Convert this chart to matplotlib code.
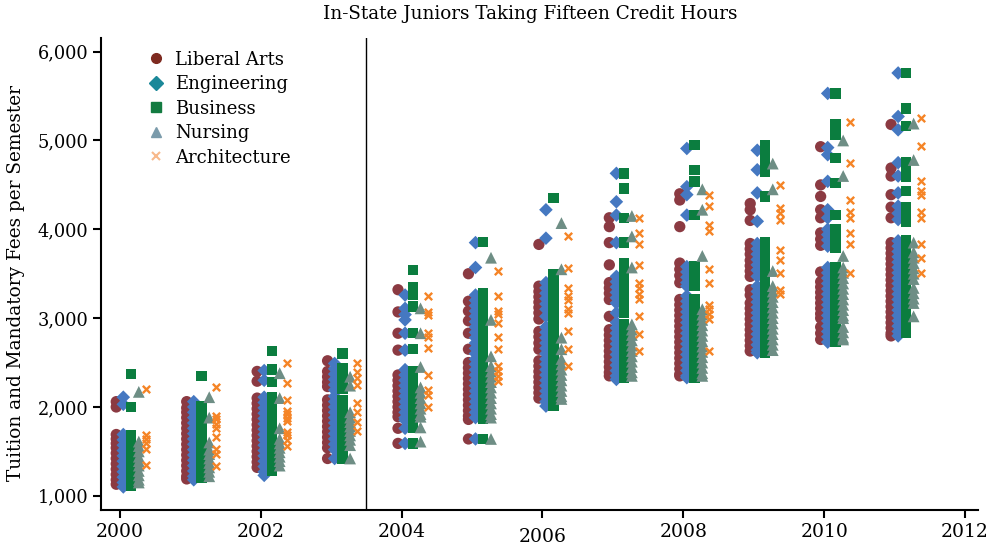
import matplotlib.pyplot as plt
from matplotlib.lines import Line2D
from matplotlib.transforms import ScaledTranslation

plt.rcParams['font.family'] = ['DejaVu Serif']

years = [2000, 2001, 2002, 2003, 2004, 2005, 2006, 2007, 2008, 2009, 2010, 2011]

# fees per semester for each school, one inner list per year
liberal_arts = [
    [2060, 2000, 1690, 1640, 1590, 1540, 1480, 1420, 1360, 1300, 1240, 1180, 1130],
    [2060, 1990, 1940, 1880, 1820, 1760, 1700, 1640, 1580, 1520, 1460, 1400, 1340, 1280, 1220, 1190],
    [2400, 2290, 2100, 2040, 1980, 1920, 1860, 1800, 1740, 1680, 1620, 1560, 1500, 1440, 1380, 1320],
    [2520, 2400, 2340, 2280, 2230, 2080, 2020, 1960, 1900, 1840, 1780, 1720, 1660, 1600, 1540, 1420],
    [3320, 3070, 2830, 2640, 2360, 2300, 2240, 2180, 2120, 2060, 2000, 1940, 1890, 1760, 1590],
    [3500, 3190, 3080, 2970, 2830, 2650, 2500, 2440, 2380, 2320, 2260, 2200, 2140, 2080, 2020, 1960,
     1900, 1860, 1640],
    [3830, 3360, 3300, 3240, 3180, 3120, 3060, 2990, 2850, 2790, 2720, 2650, 2520, 2460, 2400, 2340,
     2280, 2220, 2160, 2100],
    [4130, 4030, 3850, 3600, 3400, 3340, 3280, 3210, 3020, 2870, 2810, 2750, 2690, 2630, 2570, 2510,
     2450, 2390, 2350],
    [4400, 4330, 4030, 3620, 3550, 3480, 3400, 3210, 3150, 3090, 3030, 2970, 2910, 2850, 2790, 2730,
     2670, 2610, 2550, 2490, 2430, 2370, 2350],
    [4290, 4220, 4100, 3840, 3780, 3720, 3650, 3590, 3530, 3470, 3320, 3260, 3170, 3110, 3050, 2990,
     2930, 2870, 2810, 2750, 2690, 2630],
    [4930, 4500, 4370, 4220, 4130, 3960, 3890, 3820, 3520, 3410, 3350, 3290, 3230, 3170, 3110, 3050,
     3000, 2900, 2830, 2760],
    [5180, 4690, 4600, 4390, 4250, 4130, 3850, 3790, 3730, 3670, 3610, 3550, 3490, 3430, 3370, 3310,
     3250, 3190, 3130, 3070, 3010, 2950, 2890, 2830, 2800],
]
engineering = [
    [2110, 2030, 1690, 1630, 1570, 1510, 1450, 1390, 1330, 1270, 1210, 1150, 1100],
    [2060, 2000, 1940, 1880, 1820, 1760, 1700, 1640, 1580, 1520, 1460, 1400, 1340, 1280, 1220, 1180],
    [2410, 2300, 2110, 2050, 1990, 1930, 1870, 1810, 1750, 1690, 1630, 1570, 1510, 1450, 1390, 1330,
     1270, 1230],
    [2490, 2430, 2370, 2310, 2250, 2190, 2120, 2060, 2000, 1940, 1880, 1820, 1760, 1700, 1640, 1580,
     1520, 1420],
    [3260, 3110, 3040, 2980, 2830, 2640, 2420, 2360, 2300, 2240, 2180, 2120, 2060, 2000, 1940, 1880,
     1850, 1760, 1590],
    [3850, 3570, 3260, 3200, 3140, 3080, 3020, 2960, 2900, 2840, 2780, 2720, 2660, 2600, 2540, 2480,
     2420, 2360, 2300, 2240, 2180, 2120, 2060, 2000, 1940, 1880, 1640],
    [4220, 3900, 3400, 3340, 3280, 3220, 3160, 3100, 3020, 2900, 2840, 2780, 2720, 2660, 2600, 2540,
     2480, 2420, 2360, 2300, 2240, 2180, 2120, 2060, 2010],
    [4630, 4310, 4160, 3850, 3470, 3410, 3350, 3290, 3230, 3170, 3060, 2950, 2890, 2830, 2770, 2710,
     2650, 2590, 2530, 2470, 2410, 2350, 2310],
    [4910, 4480, 4390, 4160, 3580, 3520, 3460, 3400, 3360, 3250, 3190, 3130, 3070, 3010, 2950, 2890,
     2830, 2770, 2710, 2650, 2590, 2530, 2470, 2410, 2350, 2330],
    [4890, 4670, 4410, 4090, 3840, 3780, 3720, 3660, 3600, 3540, 3470, 3360, 3300, 3240, 3180, 3120,
     3060, 3000, 2940, 2880, 2820, 2760, 2700, 2640, 2610],
    [5530, 4920, 4840, 4540, 4220, 4130, 4000, 3940, 3880, 3810, 3570, 3510, 3450, 3390, 3330, 3270,
     3210, 3150, 3090, 3030, 2970, 2910, 2850, 2790, 2730],
    [5760, 5270, 5120, 4750, 4600, 4410, 4260, 4180, 4110, 3870, 3810, 3750, 3690, 3630, 3570, 3510,
     3450, 3390, 3330, 3270, 3210, 3150, 3090, 3030, 2970, 2910, 2850, 2800],
]
business = [
    [2370, 2000, 1680, 1620, 1560, 1500, 1440, 1380, 1320, 1260, 1200, 1140, 1110],
    [2350, 2010, 1950, 1890, 1830, 1770, 1710, 1650, 1590, 1530, 1470, 1410, 1350, 1290, 1230, 1200],
    [2630, 2420, 2280, 2110, 2040, 1980, 1920, 1860, 1800, 1740, 1680, 1620, 1560, 1500, 1440, 1380,
     1320, 1280],
    [2600, 2440, 2380, 2320, 2260, 2200, 2080, 2020, 1960, 1900, 1840, 1780, 1720, 1660, 1600, 1540,
     1420],
    [3540, 3350, 3260, 3130, 2830, 2650, 2400, 2340, 2280, 2220, 2160, 2100, 2040, 1980, 1920, 1860,
     1760, 1590],
    [3860, 3280, 3220, 3160, 3100, 3040, 2980, 2900, 2840, 2780, 2700, 2640, 2580, 2520, 2460, 2400,
     2340, 2280, 2220, 2160, 2100, 2040, 1980, 1920, 1870, 1640],
    [4350, 3490, 3430, 3370, 3310, 3250, 3210, 3110, 3050, 3020, 2900, 2840, 2780, 2720, 2660, 2600,
     2540, 2480, 2420, 2360, 2300, 2240, 2180, 2120, 2060, 2010],
    [4630, 4460, 4130, 3850, 3620, 3560, 3500, 3440, 3400, 3340, 3280, 3220, 3170, 3060, 2930, 2870,
     2810, 2750, 2690, 2630, 2570, 2510, 2450, 2390, 2330],
    [4950, 4670, 4540, 4160, 3580, 3520, 3460, 3400, 3360, 3210, 3100, 3040, 2980, 2920, 2860, 2800,
     2740, 2680, 2620, 2560, 2500, 2440, 2380, 2330],
    [4950, 4890, 4830, 4770, 4710, 4650, 4370, 3850, 3790, 3730, 3670, 3610, 3550, 3480, 3360, 3300,
     3240, 3180, 3120, 3060, 3000, 2940, 2880, 2820, 2760, 2700, 2640, 2610],
    [5530, 5180, 5120, 5060, 4800, 4520, 4160, 4000, 3940, 3880, 3820, 3790, 3570, 3510, 3450, 3390,
     3330, 3270, 3210, 3150, 3090, 3030, 3000, 2900, 2840, 2780, 2730],
    [5760, 5360, 5160, 4750, 4670, 4590, 4430, 4250, 4170, 4090, 3880, 3820, 3760, 3700, 3640, 3580,
     3520, 3460, 3420, 3380, 3320, 3260, 3200, 3140, 3100, 3060, 3000, 2940, 2880, 2840],
]
nursing = [
    [2170, 1610, 1560, 1500, 1440, 1390, 1340, 1280, 1230, 1180, 1150],
    [2110, 1880, 1600, 1520, 1470, 1420, 1370, 1320, 1270, 1220],
    [2380, 2100, 1760, 1640, 1590, 1540, 1490, 1440, 1390, 1340],
    [2340, 2240, 1940, 1880, 1830, 1780, 1730, 1680, 1630, 1570, 1420],
    [3110, 2830, 2450, 2220, 2160, 2100, 2040, 1980, 1920, 1890, 1770, 1610],
    [3680, 2980, 2570, 2460, 2400, 2340, 2280, 2220, 2160, 2100, 2040, 1980, 1920, 1880, 1640],
    [4070, 3550, 2780, 2650, 2540, 2480, 2420, 2360, 2300, 2240, 2180, 2120, 2090],
    [4150, 3920, 3570, 2930, 2870, 2810, 2750, 2690, 2630, 2570, 2510, 2450, 2390, 2350],
    [4450, 4220, 3700, 3100, 3040, 2980, 2920, 2860, 2800, 2740, 2680, 2620, 2560, 2500, 2440, 2380,
     2350],
    [4740, 4450, 3530, 3360, 3300, 3240, 3180, 3120, 3060, 3000, 2940, 2880, 2820, 2760, 2700, 2640],
    [5000, 4600, 3700, 3570, 3510, 3450, 3390, 3330, 3270, 3210, 3150, 3090, 3030, 3000, 2900, 2840,
     2780, 2760],
    [5190, 4780, 3850, 3740, 3680, 3620, 3560, 3500, 3440, 3340, 3280, 3220, 3170, 3020],
]
architecture = [
    [2200, 1680, 1640, 1590, 1530, 1350],
    [2230, 1900, 1860, 1810, 1760, 1660, 1530, 1470, 1340],
    [2490, 2270, 2080, 1960, 1920, 1880, 1840, 1720, 1680, 1630, 1560],
    [2490, 2390, 2330, 2250, 2040, 1940, 1830, 1730],
    [3250, 3070, 3030, 2830, 2790, 2660, 2360, 2190, 2140, 2000],
    [3530, 3250, 3080, 3050, 2950, 2790, 2650, 2460, 2400, 2350, 2290],
    [3920, 3570, 3340, 3250, 3200, 3100, 3060, 2850, 2650, 2460],
    [4130, 3960, 3830, 3600, 3400, 3340, 3270, 3210, 3020, 2820, 2630],
    [4390, 4260, 4050, 3980, 3550, 3400, 3150, 3100, 3050, 2990, 2630],
    [4500, 4240, 4180, 4110, 3770, 3660, 3510, 3320, 3270],
    [5210, 4750, 4330, 4200, 4130, 3960, 3830, 3510],
    [5250, 4940, 4540, 4430, 4390, 4200, 4130, 3830, 3680, 3510],
]

names = ['Liberal Arts', 'Engineering', 'Business', 'Nursing', 'Architecture']
series = [liberal_arts, engineering, business, nursing, architecture]
offsets = [-0.05, 0.05, 0.16, 0.27, 0.37]
markers = ['o', 'D', 's', '^', 'x']
sizes = [66, 48, 56, 72, 28]
colors = ['#8b3a42', '#4578c1', '#0b7d3f', '#6e8e85', '#f58426']
legend_colors = ['#7e2a20', '#1b8899', '#137b41', '#7b9bab', '#f8b98b']

fig = plt.figure(figsize=(9.89, 5.49), dpi=100)
ax = fig.add_axes([0.1026, 0.071, 0.886, 0.86])

for vals, off, mk, sz, col in zip(series, offsets, markers, sizes, colors):
    for yr, ys in zip(years, vals):
        xs = [yr + off] * len(ys)
        if mk == 'x':
            ax.scatter(xs, ys, marker=mk, s=sz, color=col, linewidths=1.7, zorder=3)
        else:
            ax.scatter(xs, ys, marker=mk, s=sz, color=col, edgecolors='none', zorder=3)

# break in the series between 2003 and 2004
ax.axvline(2003.5, color='black', lw=1, zorder=1)

ax.set_xlim(1999.74, 2012.18)
ax.set_ylim(840, 6155)
ax.set_xticks([2000, 2002, 2004, 2006, 2008, 2010, 2012])
ax.set_yticks([1000, 2000, 3000, 4000, 5000, 6000])
ax.set_yticklabels(['1,000', '2,000', '3,000', '4,000', '5,000', '6,000'])
ax.tick_params(axis='both', labelsize=12.8, width=1.5, length=6, direction='out')
ax.tick_params(axis='x', labelsize=13.5, pad=3)
for sp in ['top', 'right']:
    ax.spines[sp].set_visible(False)
for sp in ['left', 'bottom']:
    ax.spines[sp].set_linewidth(1.5)

# the 2006 label sits a little lower than the others
for lbl in ax.get_xticklabels():
    if lbl.get_text() == '2006':
        lbl.set_transform(lbl.get_transform() + ScaledTranslation(0, -4 / 72, fig.dpi_scale_trans))

ax.set_ylabel('Tuition and Mandatory Fees per Semester', fontsize=13.3)
ax.yaxis.set_label_coords(-0.087, 0.48)
fig.text(0.536, 0.974, 'In-State Juniors Taking Fifteen Credit Hours', ha='center', va='center', fontsize=13.2)

handles = [Line2D([], [], linestyle='none', marker=mk, color=c, markersize=7 if mk != 'x' else 6,
                  markeredgewidth=1.5 if mk == 'x' else 1)
           for mk, c in zip(markers, legend_colors)]
ax.legend(handles, names, loc='upper left', bbox_to_anchor=(0.035, 1.0), frameon=False,
          fontsize=13, handletextpad=0.5, labelspacing=0.36, borderpad=0.2, handlelength=1.2)

fig.savefig('out.png', dpi=100)
